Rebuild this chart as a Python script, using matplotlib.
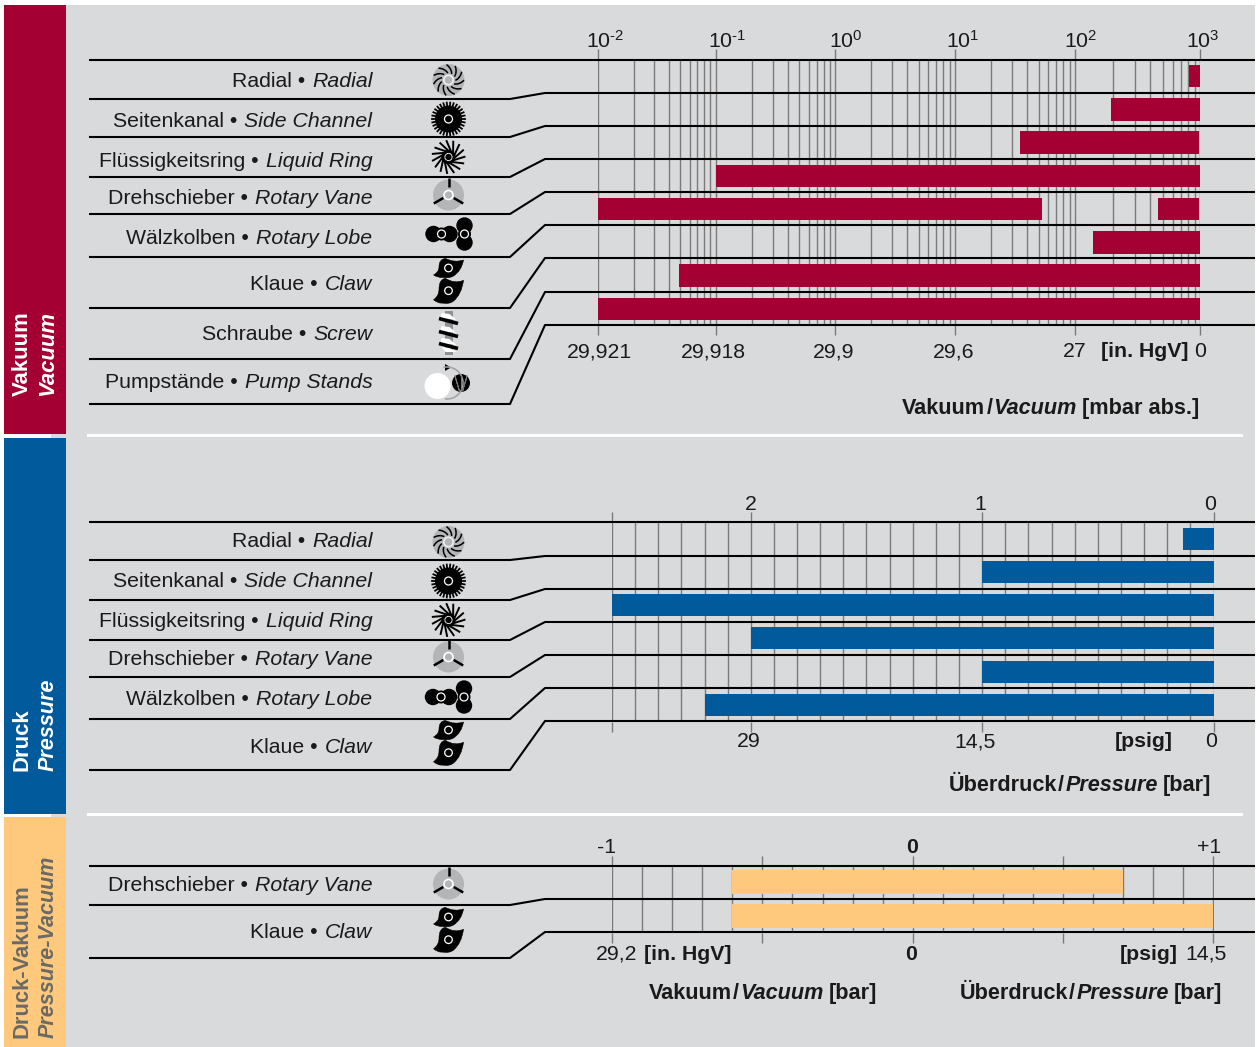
import numpy as np
import matplotlib
matplotlib.use("Agg")
import matplotlib.pyplot as plt
from matplotlib.patches import Circle, PathPatch, Polygon, Rectangle
from matplotlib.path import Path
from matplotlib.ticker import LogLocator, MultipleLocator, NullFormatter

plt.rcParams["font.family"] = ["Liberation Sans", "DejaVu Sans"]
plt.rcParams["mathtext.fontset"] = "custom"
plt.rcParams["mathtext.rm"] = "Liberation Sans"

W, H = 1257, 1047
GREY = "#d9dadc"
CRIMSON = "#a50034"
BLUE = "#005a9b"
ORANGE = "#fec97d"
INK = "#1a1a1a"
GRID = "#7a7a7a"
ICON_GREY = "#b4b5b7"
FS = 15.3
FS_TITLE = 15.6

# Vacuum panel, mbar abs.
vacuum_de = ["Radial", "Seitenkanal", "Flüssigkeitsring", "Drehschieber", "Wälzkolben", "Klaue", "Schraube", "Pumpstände"]
vacuum_en = ["Radial", "Side Channel", "Liquid Ring", "Rotary Vane", "Rotary Lobe", "Claw", "Screw", "Pump Stands"]
vacuum_rows = [0, 1, 2, 3, 4, 4, 5, 6, 7]
vacuum_low = [817, 194, 35, 0.1, 0.01, 461, 139, 0.049, 0.01]
vacuum_high = [1000, 1000, 980, 1000, 53, 980, 1000, 1000, 1000]
vacuum_ticks = [0.01, 0.1, 1, 10, 100, 1000]
vacuum_top_labels = ["-2", "-1", "0", "1", "2", "3"]
vacuum_hg_labels = ["29,921", "29,918", "29,9", "29,6", "27", "0"]
# the printed log axis is not quite even, these are its decades in pixels
decade_exp = [-2, -1, 0, 1, 2, 3]
decade_px = [598.3, 715.6, 835.3, 955, 1075, 1200.3]

# Pressure panel, bar
pressure_de = ["Radial", "Seitenkanal", "Flüssigkeitsring", "Drehschieber", "Wälzkolben", "Klaue"]
pressure_en = ["Radial", "Side Channel", "Liquid Ring", "Rotary Vane", "Rotary Lobe", "Claw"]
pressure_max = [0.13, 1.0, 2.6, 2.0, 1.0, 2.2]
pressure_ticks = [2.6, 2, 1, 0]
pressure_top_labels = ["2", "1", "0"]
pressure_psi_labels = ["29", "14,5", "0"]

# Pressure-vacuum panel, bar
mixed_de = ["Drehschieber", "Klaue"]
mixed_en = ["Rotary Vane", "Claw"]
mixed_low = [-0.6, -0.6]
mixed_high = [0.7, 1.0]
mixed_ticks = [-1, -0.5, 0, 0.5, 1]

fig = plt.figure(figsize=(W / 100, H / 100), dpi=100, facecolor="white")

# full figure layer in pixel coordinates for the furniture
back = fig.add_axes([0, 0, 1, 1], zorder=0)
back.set_xlim(0, W)
back.set_ylim(H, 0)
back.axis("off")
top = fig.add_axes([0, 0, 1, 1], zorder=5)
top.set_xlim(0, W)
top.set_ylim(H, 0)
top.axis("off")

back.add_patch(Rectangle((51, 5), 1204, H - 5, fc=GREY, ec="none"))
back.add_patch(Rectangle((4, 5), 62, 429, fc=CRIMSON, ec="none"))
back.add_patch(Rectangle((4, 438), 62, 375.5, fc=BLUE, ec="none"))
back.add_patch(Rectangle((4, 817), 62, 230, fc=ORANGE, ec="none"))
back.add_patch(Rectangle((87, 433.5), 1156, 3, fc="white", ec="none"))
back.add_patch(Rectangle((87, 812.5), 1156, 3, fc="white", ec="none"))


def panel_axes(x0, x1, y0, y1, n_rows):
    ax = fig.add_axes([x0 / W, 1 - y1 / H, (x1 - x0) / W, (y1 - y0) / H], zorder=2)
    ax.patch.set_alpha(0)
    for s in ax.spines.values():
        s.set_visible(False)
    ax.set_ylim(n_rows - 0.5, -0.5)
    ax.set_yticks([])
    ax.set_axisbelow(True)
    ax.grid(True, which="both", axis="x", color=GRID, lw=1.0)
    ax.tick_params(axis="x", which="major", top=True, bottom=True, length=7, width=1.0, color=GRID,
                   labelbottom=False, labeltop=False)
    ax.tick_params(axis="x", which="minor", top=False, bottom=False, length=0,
                   labelbottom=False, labeltop=False)
    return ax


def label(x, y, s, weight="normal", style="normal", ha="center", color=INK, size=FS, **kw):
    return top.text(x, y, s, fontsize=size, fontweight=weight, fontstyle=style, ha=ha, va="baseline",
                    color=color, **kw)


def width_of(t):
    bb = t.get_window_extent(fig.canvas.get_renderer())
    return bb.width


def runs(x, y, parts, size=FS):
    # parts are (text, weight, style, gap before next), laid out from the right edge x
    for s, weight, style, gap in reversed(parts):
        x -= gap
        t = label(x, y, s, weight, style, ha="right", size=size)
        x -= width_of(t)


def row_label(y, de, en):
    runs(372.5, y, [(de + " •", "normal", "normal", 7), (en, "normal", "italic", 0)])


def title(x, y, word, word_it, unit):
    runs(x, y, [(word, "bold", "normal", 1), ("/", "bold", "normal", 1), (word_it, "bold", "italic", 5),
                (unit, "bold", "normal", 0)], size=FS_TITLE)


def steps(left_y, right_y):
    top.plot([89, 1255], [left_y[0], right_y[0]], color="black", lw=1.5, solid_capstyle="butt")
    for ly, ry in zip(left_y[1:], right_y[1:]):
        top.plot([89, 510, 545, 1255], [ly, ly, ry, ry], color="black", lw=1.5, solid_capstyle="butt")


def ring(cx, cy, r, face="none", edge="white", lw=0.9):
    top.add_patch(Circle((cx, cy), r, fc=face, ec=edge, lw=lw))


def icon_radial(cx, cy):
    top.add_patch(Circle((cx, cy), 16, fc=ICON_GREY, ec="none"))
    for a in np.linspace(0, 2 * np.pi, 11, endpoint=False):
        rr = np.linspace(7.5, 15, 8)
        th = a + (rr - 7.5) * 0.07
        top.plot(cx + rr * np.cos(th), cy - rr * np.sin(th), color="black", lw=1.1)
    ring(cx, cy, 4.7, face=ICON_GREY, edge="#eeeeee", lw=1.2)


def icon_side(cx, cy):
    top.add_patch(Circle((cx, cy), 13.5, fc="black", ec="none"))
    for a in np.linspace(0, 2 * np.pi, 30, endpoint=False):
        top.plot([cx + 12 * np.cos(a), cx + 16.5 * np.cos(a)], [cy - 12 * np.sin(a), cy - 16.5 * np.sin(a)],
                 color="black", lw=1.3)
    ring(cx, cy, 4)


def icon_liquid(cx, cy):
    for a in np.linspace(0, 2 * np.pi, 15, endpoint=False):
        b = a + 0.85
        top.plot([cx + 5 * np.cos(a), cx + 16 * np.cos(b)], [cy - 5 * np.sin(a), cy - 16 * np.sin(b)],
                 color="black", lw=1.4)
    top.add_patch(Circle((cx, cy), 7, fc="black", ec="none"))
    ring(cx, cy, 3.8)


def icon_vane(cx, cy):
    top.add_patch(Circle((cx, cy), 15.5, fc=ICON_GREY, ec="none"))
    ring(cx, cy, 4.5, face=ICON_GREY, edge="white", lw=1.2)
    for d, start in zip((90, 210, 330), (8, 6, 6)):
        a = np.radians(d)
        top.plot([cx + start * np.cos(a), cx + 17 * np.cos(a)], [cy - start * np.sin(a), cy - 17 * np.sin(a)],
                 color="black", lw=1.8, solid_capstyle="butt")


def icon_lobe(cx, cy):
    lx, rx = cx - 7.5, cx + 15.5
    for dx, dy, c in ((-8, 0, lx), (8, 0, lx), (0, -8.5, rx), (0, 8.5, rx)):
        top.add_patch(Circle((c + dx, cy + dy), 8.2, fc="black", ec="none"))
    top.add_patch(Circle((lx, cy), 6.5, fc="black", ec="none"))
    top.add_patch(Circle((rx, cy), 6.5, fc="black", ec="none"))
    ring(lx, cy, 4)
    ring(rx, cy, 4)


CLAW_PTS = [(-3, -9.5), (6, -5), (15, -8), (13, 3), (5, 8), (1, 10.5), (-6, 9.5), (-10, 10), (-15, 7),
            (-9.5, 4), (-9.5, -1), (-9.5, -9), (-3, -9.5)]
CLAW_CODES = [Path.MOVETO] + [Path.CURVE3] * 12


def icon_claw(cx, cy):
    for oy, sy in ((-14, 1.0), (8.7, 1.3)):
        pts = [(cx + px, cy + oy + py * sy) for px, py in CLAW_PTS]
        top.add_patch(PathPatch(Path(pts, CLAW_CODES), fc="black", ec="black", lw=0.4))
        ring(cx, cy + oy, 3.8)


def icon_screw(cx, cy):
    top.add_patch(Rectangle((cx - 4, cy - 22), 8, 44, fc="#8f9092", ec="none"))
    for oy in (-12, 1, 13):
        top.add_patch(Polygon([(cx - 7, cy + oy - 8), (cx + 1, cy + oy - 7), (cx + 8, cy + oy - 1), (cx - 8, cy + oy - 3)],
                              closed=True, fc="white", ec="none"))
        top.plot([cx - 9.5, cx + 9.5], [cy + oy - 2.5, cy + oy + 2.5], color="black", lw=2.6, solid_capstyle="butt")
    top.add_patch(Polygon([(cx - 7, cy + 14), (cx + 1, cy + 15), (cx + 8, cy + 19), (cx - 3, cy + 19)],
                          closed=True, fc="white", ec="none"))


def icon_stand(cx, cy):
    a = np.radians(np.linspace(-100, 95, 40))
    top.plot(cx + 2 + 16 * np.cos(a), cy - 1 + 16 * np.sin(a), color="#a0a1a3", lw=1.1)
    top.add_patch(Polygon([(cx + 0, cy - 20), (cx + 0, cy - 13), (cx + 6, cy - 16.5)], closed=True, fc="black", ec="none"))
    top.add_patch(Circle((cx - 7.5, cy + 2), 13, fc="white", ec="none"))
    top.add_patch(Circle((cx + 16, cy - 1), 9, fc="black", ec="none"))
    for off, bend in ((-4, -2), (0, 0), (4, 2)):
        top.plot([cx + 16 + off + bend, cx + 16 + off * 0.4, cx + 16 + off + bend], [cy - 8, cy + 7, cy - 8], color="#777777", lw=0.7)


ICONS = {"Radial": icon_radial, "Seitenkanal": icon_side, "Flüssigkeitsring": icon_liquid,
         "Drehschieber": icon_vane, "Wälzkolben": icon_lobe, "Klaue": icon_claw,
         "Schraube": icon_screw, "Pumpstände": icon_stand}


def to_px(v):
    return np.interp(np.log10(np.maximum(v, 1e-9)), decade_exp, decade_px)


def from_px(p):
    return 10.0 ** np.interp(p, decade_px, decade_exp)


# Vacuum panel
ax = panel_axes(598.3, 1200.3, 59.5, 325.5, 8)
ax.set_xscale("function", functions=(to_px, from_px))
ax.set_xlim(0.01, 1000)
ax.set_xticks(vacuum_ticks)
ax.xaxis.set_minor_locator(LogLocator(base=10, subs=range(2, 10), numticks=20))
ax.xaxis.set_minor_formatter(NullFormatter())
ax.tick_params(axis="x", which="major", labelbottom=False, labeltop=False)
ax.barh(vacuum_rows, np.array(vacuum_high) - np.array(vacuum_low), left=vacuum_low, height=0.67, color=CRIMSON)

steps([60, 99, 137, 177, 214, 257, 308, 359, 404], [60, 93, 126, 159, 192, 225, 258, 292, 325])
vac_label_y = [87, 127, 167, 204, 244, 290, 340, 388]
vac_icon_y = [80, 119, 157, 195, 234, 282, 333, 384]
for y, iy, de, en in zip(vac_label_y, vac_icon_y, vacuum_de, vacuum_en):
    row_label(y, de, en)
    ICONS[de](445 if de == "Pumpstände" else (448.5 if de != "Wälzkolben" else 449), iy)
for x, s in zip([605, 727, 846, 963, 1081, 1203], vacuum_top_labels):
    label(x, 48, r"$\mathregular{10^{\text{%s}}}$" % s)
for x, s in zip([599, 713, 834, 954, 1075, 1200], vacuum_hg_labels):
    label(x, 357, s)
label(1145, 357, "[in. HgV]", weight="bold")
title(1199, 414, "Vakuum", "Vacuum", "[mbar abs.]")

# Pressure panel, half a pixel of slack so the end grid lines are not clipped
ax = panel_axes(611.5, 1214, 522, 721.5, 6)
ax.set_xlim(2.602, -0.002)
ax.set_xticks(pressure_ticks)
ax.xaxis.set_minor_locator(MultipleLocator(0.1))
ax.barh(range(6), pressure_max, left=0, height=0.66, color=BLUE)

steps([522, 560, 600, 640, 677, 719, 770], [522, 556, 589, 622, 655, 688, 721])
for y, iy, de, en in zip([547, 587, 627, 665, 705, 753], [542, 581, 620, 657, 697, 744], pressure_de, pressure_en):
    row_label(y, de, en)
    ICONS[de](448.5, iy)
for x, s in zip([751, 980, 1210], pressure_top_labels):
    label(x, 510, s)
for x, s in zip([749, 975, 1211], pressure_psi_labels):
    label(x, 747, s)
label(1144, 747, "[psig]", weight="bold")
title(1211, 791, "Überdruck", "Pressure", "[bar]")

# Pressure-vacuum panel
ax = panel_axes(611.5, 1214, 865.5, 932.5, 2)
ax.set_xlim(-1.0017, 1.0017)
ax.set_xticks(mixed_ticks)
ax.xaxis.set_minor_locator(MultipleLocator(0.1))
ax.barh(range(2), np.array(mixed_high) - np.array(mixed_low), left=mixed_low, height=0.72, color=ORANGE)

steps([865.5, 905, 958], [865.5, 899, 932])
for y, iy, de, en in zip([891, 938], [884, 931], mixed_de, mixed_en):
    row_label(y, de, en)
    ICONS[de](448.5, iy)
label(606, 853, "-1")
label(912, 853, "0", weight="bold")
label(1209, 853, "+1")
label(617, 960, "29,2")
label(688, 960, "[in. HgV]", weight="bold")
label(911, 960, "0", weight="bold")
label(1149, 960, "[psig]", weight="bold")
label(1206, 960, "14,5")
title(877, 999, "Vakuum", "Vacuum", "[bar]")
title(1222, 999, "Überdruck", "Pressure", "[bar]")

# Sidebar titles
for x, s, st, y, c, fs in ((22, "Vakuum", "normal", 396, "white", 15.9), (48, "Vacuum", "italic", 396, "white", 15.9),
                           (22, "Druck", "normal", 771, "white", 15.9), (48, "Pressure", "italic", 771, "white", 15.6),
                           (22, "Druck-Vakuum", "normal", 1038, "#6a6a66", 15.8), (48, "Pressure-Vacuum", "italic", 1038, "#6a6a66", 15.5)):
    top.text(x, y, s, fontsize=fs, fontweight="bold", fontstyle=st, color=c, rotation=90, ha="center", va="bottom")

fig.savefig("out.png", dpi=100, facecolor="white")
